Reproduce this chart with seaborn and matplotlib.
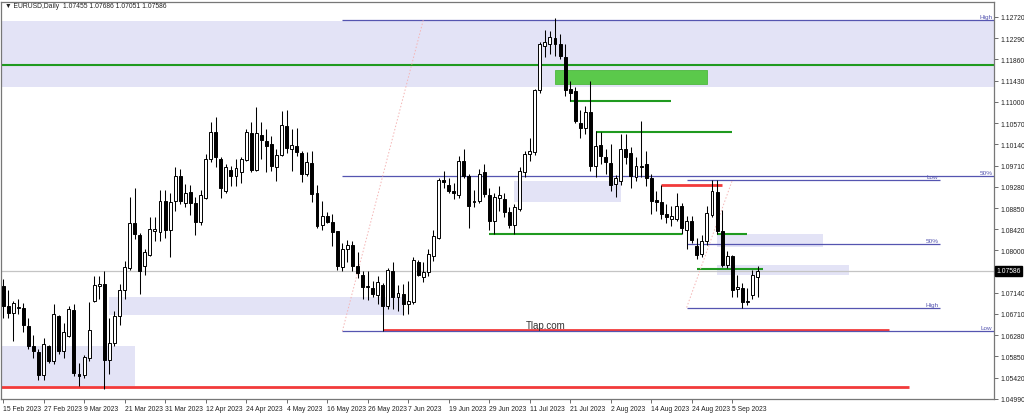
import numpy as np
import seaborn as sns
import matplotlib.pyplot as plt
import matplotlib.transforms as mtransforms
from matplotlib.patches import Rectangle

# daily EURUSD candles, 15 Feb 2023 .. 12 Sep 2023
first_day = '2023-02-15'
opens = [
    1.0727, 1.0688, 1.0672, 1.0684, 1.0684, 1.0646, 1.0606, 1.0595, 1.0547, 1.0606,
    1.0575, 1.0666, 1.0597, 1.0626, 1.0680, 1.0549, 1.0547, 1.0581, 1.0698, 1.0727,
    1.0731, 1.0577, 1.0612, 1.0666, 1.0719, 1.0763, 1.0856, 1.0830, 1.0769, 1.0791,
    1.0838, 1.0836, 1.0900, 1.0840, 1.0900, 1.0951, 1.0896, 1.0917, 1.0896, 1.0858,
    1.0906, 1.0985, 1.1040, 1.0985, 1.0919, 1.0963, 1.0951, 1.0959, 1.0983, 1.1038,
    1.0963, 1.1032, 1.1020, 1.1015, 1.0969, 1.0993, 1.1052, 1.1005, 1.1011, 1.0997,
    1.0955, 1.0977, 1.0915, 1.0850, 1.0870, 1.0858, 1.0838, 1.0767, 1.0803, 1.0811,
    1.0769, 1.0749, 1.0725, 1.0723, 1.0709, 1.0729, 1.0688, 1.0757, 1.0706, 1.0711,
    1.0692, 1.0696, 1.0777, 1.0745, 1.0755, 1.0789, 1.0824, 1.0941, 1.0931, 1.0919,
    1.0911, 1.0981, 1.0951, 1.0898, 1.0900, 1.0959, 1.0911, 1.0860, 1.0906, 1.0904,
    1.0878, 1.0850, 1.0884, 1.0959, 1.0995, 1.0999, 1.1123, 1.1213, 1.1218, 1.1230,
    1.1218, 1.1191, 1.1127, 1.1121, 1.1058, 1.1048, 1.1080, 1.0971, 1.1013, 1.0989,
    1.0977, 1.0933, 1.0939, 1.1005, 1.0997, 1.0949, 1.0969, 1.0975, 1.0945, 1.0902,
    1.0898, 1.0874, 1.0864, 1.0864, 1.0890, 1.0840, 1.0860, 1.0809, 1.0793, 1.0818,
    1.0872, 1.0917, 1.0838, 1.0771, 1.0789, 1.0721, 1.0723, 1.0696, 1.0709, 1.07455,
]
highs = [
    1.0741, 1.0719, 1.0698, 1.0702, 1.0694, 1.0662, 1.0628, 1.0601, 1.0622, 1.0608,
    1.0692, 1.0668, 1.0652, 1.0688, 1.0692, 1.0571, 1.0589, 1.0696, 1.0747, 1.0747,
    1.0757, 1.0662, 1.0678, 1.0731, 1.0779, 1.0908, 1.0925, 1.0834, 1.0803, 1.0868,
    1.0868, 1.0921, 1.0921, 1.0915, 1.0969, 1.0965, 1.0933, 1.0931, 1.0908, 1.0921,
    1.0995, 1.1060, 1.1070, 1.0989, 1.0975, 1.0971, 1.0985, 1.0989, 1.1046, 1.1060,
    1.1090, 1.1060, 1.1046, 1.1030, 1.1005, 1.1082, 1.1084, 1.1046, 1.1048, 1.1001,
    1.0999, 1.1001, 1.0931, 1.0900, 1.0878, 1.0874, 1.0838, 1.0814, 1.0820, 1.0818,
    1.0797, 1.0757, 1.0757, 1.0737, 1.0747, 1.0733, 1.0763, 1.0777, 1.0729, 1.0731,
    1.0737, 1.0787, 1.0781, 1.0777, 1.0803, 1.0840, 1.0945, 1.0961, 1.0945, 1.0935,
    1.0991, 1.1005, 1.0955, 1.0921, 1.0965, 1.0975, 1.0925, 1.0915, 1.0929, 1.0915,
    1.0888, 1.0894, 1.0969, 1.1001, 1.1026, 1.1127, 1.1222, 1.1246, 1.1244, 1.1270,
    1.1238, 1.1218, 1.1143, 1.1131, 1.1084, 1.1092, 1.1143, 1.1042, 1.1040, 1.1005,
    1.1015, 1.0953, 1.1036, 1.1036, 1.1009, 1.0989, 1.1062, 1.1001, 1.0955, 1.0919,
    1.0931, 1.0894, 1.0890, 1.0915, 1.0896, 1.0870, 1.0870, 1.0824, 1.0830, 1.0890,
    1.0941, 1.0941, 1.0882, 1.0799, 1.0791, 1.0749, 1.0733, 1.0723, 1.0759, 1.07686,
]
lows = [
    1.0662, 1.0662, 1.0616, 1.0670, 1.0634, 1.0601, 1.0581, 1.0537, 1.0537, 1.0571,
    1.0569, 1.0591, 1.0581, 1.0624, 1.0545, 1.0525, 1.0541, 1.0575, 1.0696, 1.0702,
    1.0519, 1.0549, 1.0606, 1.0648, 1.0702, 1.0759, 1.0822, 1.0711, 1.0749, 1.0789,
    1.0818, 1.0818, 1.0824, 1.0787, 1.0880, 1.0894, 1.0888, 1.0872, 1.0830, 1.0850,
    1.0904, 1.0979, 1.0969, 1.0906, 1.0915, 1.0929, 1.0929, 1.0935, 1.0981, 1.0959,
    1.0961, 1.0985, 1.0959, 1.0961, 1.0939, 1.0991, 1.0997, 1.0961, 1.0991, 1.0937,
    1.0951, 1.0898, 1.0844, 1.0840, 1.0854, 1.0809, 1.0759, 1.0757, 1.0777, 1.0757,
    1.0743, 1.0702, 1.0700, 1.0706, 1.0692, 1.0636, 1.0682, 1.0682, 1.0676, 1.0668,
    1.0670, 1.0692, 1.0747, 1.0735, 1.0747, 1.0779, 1.0822, 1.0925, 1.0915, 1.0904,
    1.0906, 1.0945, 1.0844, 1.0888, 1.0896, 1.0908, 1.0840, 1.0832, 1.0880, 1.0868,
    1.0844, 1.0832, 1.0880, 1.0949, 1.0981, 1.0993, 1.1117, 1.1191, 1.1197, 1.1193,
    1.1187, 1.1112, 1.1102, 1.1058, 1.1026, 1.1036, 1.0961, 1.0949, 1.0975, 1.0955,
    1.0919, 1.0908, 1.0931, 1.0975, 1.0925, 1.0939, 1.0949, 1.0929, 1.0874, 1.0880,
    1.0864, 1.0856, 1.0848, 1.0860, 1.0832, 1.0803, 1.0814, 1.0783, 1.0787, 1.0811,
    1.0868, 1.0832, 1.0767, 1.0763, 1.0706, 1.0706, 1.0684, 1.0690, 1.0702, 1.07051,
]
closes = [
    1.0688, 1.0672, 1.0694, 1.0686, 1.0648, 1.0606, 1.0597, 1.0547, 1.0610, 1.0575,
    1.0670, 1.0597, 1.0634, 1.0682, 1.0551, 1.0545, 1.0583, 1.0638, 1.0729, 1.0731,
    1.0577, 1.0612, 1.0666, 1.0719, 1.0767, 1.0856, 1.0832, 1.0757, 1.0797, 1.0842,
    1.0842, 1.0900, 1.0840, 1.0898, 1.0951, 1.0900, 1.0915, 1.0896, 1.0858, 1.0911,
    1.0985, 1.1040, 1.0989, 1.0925, 1.0969, 1.0951, 1.0967, 1.0985, 1.1040, 1.0963,
    1.1038, 1.1022, 1.1011, 1.0971, 1.0993, 1.1054, 1.1007, 1.1013, 1.0999, 1.0955,
    1.0979, 1.0913, 1.0848, 1.0870, 1.0858, 1.0836, 1.0769, 1.0803, 1.0811, 1.0769,
    1.0753, 1.0725, 1.0727, 1.0711, 1.0735, 1.0688, 1.0759, 1.0706, 1.0713, 1.0692,
    1.0698, 1.0781, 1.0749, 1.0755, 1.0793, 1.0828, 1.0941, 1.0937, 1.0919, 1.0915,
    1.0981, 1.0951, 1.0890, 1.0900, 1.0955, 1.0913, 1.0860, 1.0908, 1.0911, 1.0878,
    1.0850, 1.0888, 1.0961, 1.0995, 1.1001, 1.1123, 1.1218, 1.1222, 1.1232, 1.1218,
    1.1193, 1.1123, 1.1117, 1.1062, 1.1048, 1.1080, 1.0971, 1.1011, 1.0991, 1.0979,
    1.0931, 1.0945, 1.1005, 1.0989, 1.0951, 1.0971, 1.0971, 1.0945, 1.0900, 1.0898,
    1.0874, 1.0868, 1.0870, 1.0890, 1.0844, 1.0860, 1.0820, 1.0791, 1.0818, 1.0876,
    1.0919, 1.0838, 1.0771, 1.0789, 1.0719, 1.0725, 1.0696, 1.0698, 1.0749, 1.07586,
]

x_labels = ['15 Feb 2023', '27 Feb 2023', '9 Mar 2023', '21 Mar 2023', '31 Mar 2023',
            '12 Apr 2023', '24 Apr 2023', '4 May 2023', '16 May 2023', '26 May 2023',
            '7 Jun 2023', '19 Jun 2023', '29 Jun 2023', '11 Jul 2023', '21 Jul 2023',
            '2 Aug 2023', '14 Aug 2023', '24 Aug 2023', '5 Sep 2023']
y_ticks = [1.04990, 1.05420, 1.05850, 1.06280, 1.06710, 1.07140, 1.08000, 1.08420,
           1.08850, 1.09280, 1.09710, 1.10140, 1.10570, 1.11000, 1.11430, 1.11860,
           1.12290, 1.12720]
last_price = 1.07586

# drawn objects: (from, to, low, high) / (from, to, level)
zones = [('2023-01-20', '2023-12-29', 1.1131, 1.1264),
         ('2023-01-20', '2023-03-23', 1.0525, 1.0606),
         ('2023-03-16', '2023-06-06', 1.0668, 1.0706),
         ('2023-07-06', '2023-08-04', 1.0898, 1.0939),
         ('2023-08-31', '2023-09-29', 1.0807, 1.0832),
         ('2023-08-31', '2023-10-06', 1.0749, 1.0771)]
green_block = ('2023-07-18', '2023-08-29', 1.1137, 1.1165)
green_lines = [('2023-01-20', '2023-12-29', 1.1175),
               ('2023-07-21', '2023-08-18', 1.1102),
               ('2023-07-28', '2023-09-05', 1.1040),
               ('2023-06-29', '2023-08-22', 1.0832),
               ('2023-08-31', '2023-09-08', 1.0832),
               ('2023-08-25', '2023-09-13', 1.0761)]
red_lines = [('2023-01-20', '2023-10-24', 1.0523),
             ('2023-05-31', '2023-10-18', 1.0638),
             ('2023-08-16', '2023-09-01', 1.0931)]
fib_big = {'start': '2023-05-19', 'end': '2023-12-29', 'tip': '2023-06-12',
           'levels': [(1.1266, 'High'), (1.0951, '50%'), (1.0636, 'Low')]}
fib_small = {'start': '2023-08-23', 'end': '2023-11-01', 'tip': '2023-09-05',
             'levels': [(1.0684, 'High'), (1.08125, '50%'), (1.0941, 'Low')]}


def bar(d):
    return int(np.busday_count(first_day, d))


ZONE = '#E3E3F6'
GREEN = '#1F9A1F'
RED = '#F23A3A'
BLUE = '#5555B0'

sns.set_theme(style='white')
plt.rcParams['font.family'] = ['Liberation Sans', 'DejaVu Sans']

fig = plt.figure(figsize=(10.24, 4.14), dpi=100)
ax = fig.add_axes([0.001, 14 / 414, 993 / 1024, 397 / 414])
x_max = 195.7
ax.set_xlim(-0.4, x_max)
ax.set_ylim(1.0499, 1.1302)

# background objects
for a, b, lo, hi in zones:
    ax.add_patch(Rectangle((bar(a), lo), bar(b) - bar(a), hi - lo,
                           facecolor=ZONE, edgecolor='none', zorder=0))
a, b, lo, hi = green_block
ax.add_patch(Rectangle((bar(a), lo), bar(b) - bar(a), hi - lo,
                       facecolor='#5BC94B', edgecolor='#4DB83E', lw=0.6, zorder=1))
ax.axhline(last_price, color='#C4C4C4', lw=0.9, zorder=1)

for a, b, lvl in green_lines:
    ax.hlines(lvl, bar(a), bar(b), color=GREEN, lw=1.5, zorder=2)
for a, b, lvl in red_lines:
    ax.hlines(lvl, bar(a), bar(b), color=RED, lw=2.0, zorder=2)

for fib in (fib_big, fib_small):
    x0, x1 = bar(fib['start']), min(bar(fib['end']), x_max)
    for lvl, name in fib['levels']:
        ax.hlines(lvl, x0, x1, color=BLUE, lw=0.9, zorder=2)
        ax.text(x1 - 0.3, lvl + 0.0002, name, color=BLUE, fontsize=4.6,
                ha='right', va='bottom', zorder=6)
    lo = fib['levels'][0][0] if fib is fib_small else fib['levels'][-1][0]
    hi = fib['levels'][-1][0] if fib is fib_small else fib['levels'][0][0]
    ax.plot([x0, bar(fib['tip'])], [lo, hi], color='#F4B4B4', lw=0.7,
            ls=(0, (1.5, 2)), zorder=2)

# candles
xs = np.arange(len(closes))
o, h, l, c = map(np.array, (opens, highs, lows, closes))
ax.vlines(xs, l, h, color='black', lw=0.75, zorder=3)
up = c >= o
ax.bar(xs[up], c[up] - o[up], bottom=o[up], width=0.58, facecolor='white',
       edgecolor='black', lw=0.7, zorder=4)
ax.bar(xs[~up], o[~up] - c[~up], bottom=c[~up], width=0.58, facecolor='black',
       edgecolor='black', lw=0.7, zorder=4)

# axes in MT4 style
ax.yaxis.tick_right()
ax.set_yticks(y_ticks)
ax.set_yticklabels([f'{v:.5f}' for v in y_ticks])
ax.set_xticks(np.arange(0, 8 * len(x_labels), 8))
ax.set_xticklabels(x_labels, ha='left')
ax.tick_params(axis='both', which='major', labelsize=4.9, length=3, width=0.6,
               color='#555555', labelcolor='#222222', pad=1.5, direction='out')
ax.tick_params(axis='y', right=True, left=False)
ax.tick_params(axis='x', bottom=True)
for sp in ax.spines.values():
    sp.set_color('#777777')
    sp.set_linewidth(0.9)

trans = mtransforms.blended_transform_factory(ax.transAxes, ax.transData)
ax.text(1.002, last_price, f'{last_price:.5f}', transform=trans, fontsize=4.9,
        color='white', ha='left', va='center', zorder=10, clip_on=False,
        bbox=dict(boxstyle='square,pad=0.2', fc='black', ec='black'))

ax.text(0.548, 0.186, 'Tlap.com', transform=ax.transAxes, fontsize=7,
        color='#333333', ha='center', va='center', zorder=6)
fig.text(5 / 1024, 1 - 7 / 414, '▼ EURUSD,Daily  1.07455 1.07686 1.07051 1.07586',
         fontsize=4.9, color='#222222', va='center', ha='left')

fig.savefig('out.png', dpi=100)
